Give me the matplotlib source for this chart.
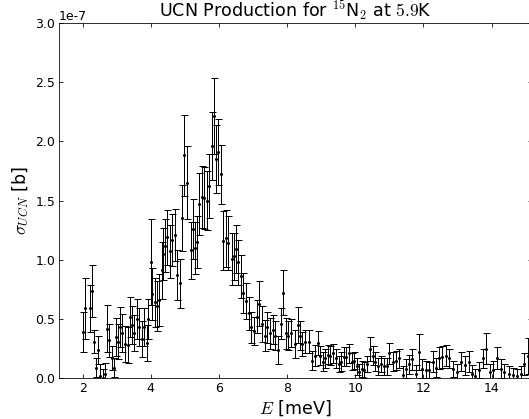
from matplotlib import pyplot as plt
import numpy as np

plt.rcParams['mathtext.fontset'] = 'cm'
plt.rcParams['font.family'] = 'DejaVu Sans'
plt.rcParams['axes.unicode_minus'] = False
plt.rcParams['xtick.direction'] = 'in'
plt.rcParams['ytick.direction'] = 'in'
plt.rcParams['xtick.top'] = True
plt.rcParams['ytick.right'] = True
plt.rcParams['xtick.major.size'] = 4
plt.rcParams['ytick.major.size'] = 4

# energy [meV]
E = [2.02, 2.06, 2.23, 2.27, 2.33, 2.40, 2.46, 2.52, 2.59, 2.66,
     2.73, 2.78, 2.85, 2.91, 2.98, 3.04, 3.09, 3.17, 3.24, 3.32,
     3.39, 3.44, 3.51, 3.60, 3.66, 3.73, 3.80, 3.88, 3.92, 4.00,
     4.05, 4.12, 4.19, 4.25, 4.32, 4.37, 4.42, 4.48, 4.56, 4.63,
     4.71, 4.78, 4.85, 4.91, 4.99, 5.05, 5.17, 5.23, 5.30, 5.36,
     5.42, 5.49, 5.56, 5.64, 5.71, 5.79, 5.85, 5.91, 5.98, 6.06,
     6.13, 6.20, 6.28, 6.37, 6.43, 6.50, 6.57, 6.65, 6.72, 6.79,
     6.87, 6.94, 7.03, 7.11, 7.18, 7.27, 7.34, 7.42, 7.50, 7.58,
     7.66, 7.73, 7.81, 7.89, 7.97, 8.04, 8.12, 8.22, 8.31, 8.38,
     8.45, 8.53, 8.63, 8.73, 8.81, 8.90, 8.96, 9.04, 9.12, 9.19,
     9.27, 9.35, 9.43, 9.51, 9.58, 9.66, 9.74, 9.81, 9.90, 9.96,
     10.04, 10.12, 10.19, 10.27, 10.35, 10.43, 10.51, 10.58, 10.66, 10.75,
     10.84, 10.92, 11.00, 11.10, 11.19, 11.29, 11.41, 11.49, 11.58, 11.68,
     11.78, 11.88, 11.97, 12.07, 12.17, 12.27, 12.37, 12.46, 12.56, 12.66,
     12.76, 12.87, 12.99, 13.11, 13.21, 13.33, 13.42, 13.52, 13.64, 13.74,
     13.83, 13.95, 14.05, 14.17, 14.27, 14.38, 14.50, 14.62, 14.74, 14.85,
     14.95, 15.07]

# cross section [1e-7 b]
sig = [0.39, 0.59, 0.59, 0.74, 0.31, 0.09, 0.24, 0.02, 0.00, 0.04,
       0.42, 0.32, 0.17, 0.09, 0.35, 0.31, 0.43, 0.38, 0.29, 0.28,
       0.52, 0.45, 0.38, 0.50, 0.43, 0.33, 0.43, 0.30, 0.50, 0.98,
       0.71, 0.64, 0.61, 0.66, 0.91, 1.05, 1.12, 1.19, 1.07, 1.17,
       1.21, 0.87, 0.80, 1.35, 1.88, 1.65, 1.08, 1.26, 1.10, 1.15,
       1.47, 1.53, 1.52, 1.50, 1.62, 1.96, 2.21, 1.85, 1.91, 1.72,
       1.16, 1.18, 1.14, 1.01, 1.03, 1.09, 0.98, 0.86, 0.72, 0.65,
       0.55, 0.43, 0.40, 0.52, 0.63, 0.46, 0.36, 0.43, 0.38, 0.41,
       0.36, 0.24, 0.46, 0.72, 0.38, 0.36, 0.38, 0.29, 0.45, 0.36,
       0.29, 0.31, 0.31, 0.15, 0.19, 0.30, 0.19, 0.14, 0.17, 0.20,
       0.19, 0.21, 0.17, 0.12, 0.14, 0.18, 0.18, 0.21, 0.14, 0.15,
       0.10, 0.05, 0.08, 0.07, 0.12, 0.25, 0.19, 0.14, 0.10, 0.12,
       0.10, 0.10, 0.21, 0.14, 0.15, 0.17, 0.03, 0.08, 0.12, 0.16,
       0.04, 0.22, 0.08, 0.07, 0.07, 0.14, 0.09, 0.17, 0.18, 0.19,
       0.17, 0.08, 0.05, 0.14, 0.11, 0.14, 0.04, 0.02, 0.07, 0.17,
       0.25, 0.05, 0.07, 0.17, 0.08, 0.05, 0.04, 0.03, 0.02, 0.04,
       0.12, 0.19]

# error [1e-7 b]
err = [0.17, 0.26, 0.20, 0.22, 0.10, 0.08, 0.12, 0.10, 0.08, 0.09,
       0.20, 0.14, 0.10, 0.08, 0.16, 0.15, 0.17, 0.16, 0.15, 0.15,
       0.17, 0.16, 0.15, 0.17, 0.16, 0.15, 0.16, 0.15, 0.17, 0.36,
       0.22, 0.21, 0.21, 0.22, 0.24, 0.22, 0.22, 0.23, 0.22, 0.22,
       0.22, 0.21, 0.21, 0.28, 0.34, 0.31, 0.24, 0.25, 0.22, 0.22,
       0.26, 0.26, 0.26, 0.25, 0.27, 0.29, 0.32, 0.29, 0.28, 0.25,
       0.25, 0.24, 0.23, 0.22, 0.20, 0.20, 0.19, 0.18, 0.17, 0.15,
       0.14, 0.13, 0.12, 0.14, 0.19, 0.15, 0.13, 0.13, 0.13, 0.12,
       0.12, 0.12, 0.13, 0.19, 0.13, 0.12, 0.12, 0.12, 0.15, 0.12,
       0.10, 0.10, 0.10, 0.08, 0.09, 0.10, 0.08, 0.08, 0.08, 0.08,
       0.08, 0.08, 0.08, 0.07, 0.08, 0.08, 0.08, 0.08, 0.07, 0.07,
       0.07, 0.07, 0.07, 0.07, 0.07, 0.10, 0.08, 0.08, 0.07, 0.07,
       0.07, 0.07, 0.09, 0.08, 0.08, 0.08, 0.07, 0.08, 0.08, 0.09,
       0.07, 0.15, 0.08, 0.08, 0.07, 0.09, 0.08, 0.09, 0.09, 0.09,
       0.08, 0.07, 0.07, 0.08, 0.08, 0.09, 0.07, 0.06, 0.07, 0.08,
       0.13, 0.07, 0.08, 0.09, 0.08, 0.07, 0.06, 0.06, 0.06, 0.06,
       0.09, 0.15]

fig = plt.figure(figsize=(529/72., 419/72.), dpi=72)
ax = fig.add_axes([0.111, 0.0971, 0.8955, 0.8487])

y = np.array(sig)*1e-7
dy = np.array(err)*1e-7
ax.errorbar(E, y, yerr=dy, fmt='k.', ms=4, ecolor='k', elinewidth=1, capsize=3.5, capthick=1)

ax.set_xlim(1.3, 15.2)
ax.set_ylim(0, 3e-7)
ax.set_xticks([2, 4, 6, 8, 10, 12, 14])
ax.set_yticks(np.arange(0, 3.01e-7, 0.5e-7))
ax.tick_params(labelsize=12.5)
ax.yaxis.get_offset_text().set_fontsize(12.5)

ax.set_title(r'UCN Production for $^{15}$N$_2$ at $5.9$K', fontsize=17.5)
ax.set_xlabel(r'$E$ [meV]', fontsize=17.5)
ax.set_ylabel(r'$\sigma_{UCN}$ [b]', fontsize=17.5)

fig.savefig('out.png', dpi=72)
